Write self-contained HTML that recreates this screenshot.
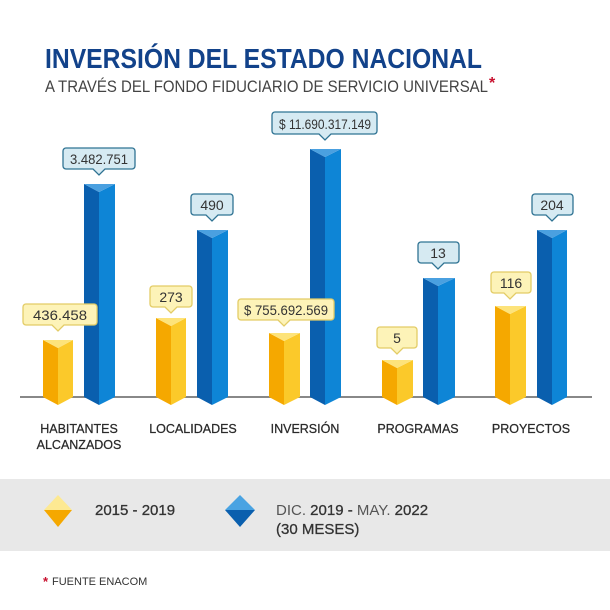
<!DOCTYPE html>
<html><head><meta charset="utf-8"><style>
html,body{margin:0;padding:0;background:#fff;}
svg{display:block;font-family:"Liberation Sans",sans-serif;}
</style></head><body>
<svg width="610" height="610" viewBox="0 0 610 610" xmlns="http://www.w3.org/2000/svg">
<rect width="610" height="610" fill="#fff"/>
<text x="45" y="68" font-size="28" font-weight="bold" fill="#12428a" textLength="437" lengthAdjust="spacingAndGlyphs">INVERSIÓN DEL ESTADO NACIONAL</text>
<text x="45" y="92" font-size="17" fill="#444" textLength="443" lengthAdjust="spacingAndGlyphs">A TRAVÉS DEL FONDO FIDUCIARIO DE SERVICIO UNIVERSAL</text>
<text x="489" y="88" font-size="16" fill="#c8102e" font-weight="bold">*</text>

<line x1="20" y1="397" x2="592" y2="397" stroke="#888" stroke-width="2"/>

<g>
<polygon points="43,340 58,348 58,405 43,397" fill="#f5a800"/><polygon points="58,348 73,340 73,397 58,405" fill="#fbc92a"/><polygon points="43,340 73,340 58,348" fill="#fde37a"/>
<polygon points="156,318 171,326 171,405 156,397" fill="#f5a800"/><polygon points="171,326 186,318 186,397 171,405" fill="#fbc92a"/><polygon points="156,318 186,318 171,326" fill="#fde37a"/>
<polygon points="269,333 284,341 284,405 269,397" fill="#f5a800"/><polygon points="284,341 300,333 300,397 284,405" fill="#fbc92a"/><polygon points="269,333 300,333 284,341" fill="#fde37a"/>
<polygon points="382,360 397,368 397,405 382,397" fill="#f5a800"/><polygon points="397,368 413,360 413,397 397,405" fill="#fbc92a"/><polygon points="382,360 413,360 397,368" fill="#fde37a"/>
<polygon points="495,306 510,314 510,405 495,397" fill="#f5a800"/><polygon points="510,314 526,306 526,397 510,405" fill="#fbc92a"/><polygon points="495,306 526,306 510,314" fill="#fde37a"/>
</g>
<g>
<polygon points="84,184 99,192 99,405 84,397" fill="#0a5fae"/><polygon points="99,192 115,184 115,397 99,405" fill="#0e85d6"/><polygon points="84,184 115,184 99,192" fill="#4aa0e0"/>
<polygon points="197,230 212,238 212,405 197,397" fill="#0a5fae"/><polygon points="212,238 228,230 228,397 212,405" fill="#0e85d6"/><polygon points="197,230 228,230 212,238" fill="#4aa0e0"/>
<polygon points="310,149 325,157 325,405 310,397" fill="#0a5fae"/><polygon points="325,157 341,149 341,397 325,405" fill="#0e85d6"/><polygon points="310,149 341,149 325,157" fill="#4aa0e0"/>
<polygon points="423,278 438,286 438,405 423,397" fill="#0a5fae"/><polygon points="438,286 455,278 455,397 438,405" fill="#0e85d6"/><polygon points="423,278 455,278 438,286" fill="#4aa0e0"/>
<polygon points="537,230 552,238 552,405 537,397" fill="#0a5fae"/><polygon points="552,238 567,230 567,397 552,405" fill="#0e85d6"/><polygon points="537,230 567,230 552,238" fill="#4aa0e0"/>
</g>

<g font-size="14" fill="#333" text-anchor="middle">
<g fill="#fdf3b8" stroke="#e3cc66" stroke-width="1.3">
<path d="M26,304 h68 a3,3 0 0 1 3,3 v15 a3,3 0 0 1 -3,3 h-30 l-6,6 l-6,-6 h-26 a3,3 0 0 1 -3,-3 v-15 a3,3 0 0 1 3,-3z"/>
<path d="M153,286 h36 a3,3 0 0 1 3,3 v15 a3,3 0 0 1 -3,3 h-12 l-6,6 l-6,-6 h-12 a3,3 0 0 1 -3,-3 v-15 a3,3 0 0 1 3,-3z"/>
<path d="M241,299 h90 a3,3 0 0 1 3,3 v15 a3,3 0 0 1 -3,3 h-41 l-6,6 l-6,-6 h-37 a3,3 0 0 1 -3,-3 v-15 a3,3 0 0 1 3,-3z"/>
<path d="M380,327 h34 a3,3 0 0 1 3,3 v15 a3,3 0 0 1 -3,3 h-11 l-6,6 l-6,-6 h-11 a3,3 0 0 1 -3,-3 v-15 a3,3 0 0 1 3,-3z"/>
<path d="M494,272 h34 a3,3 0 0 1 3,3 v15 a3,3 0 0 1 -3,3 h-12 l-6,6 l-6,-6 h-10 a3,3 0 0 1 -3,-3 v-15 a3,3 0 0 1 3,-3z"/>
</g>
<g fill="#d6eaf2" stroke="#2f7393" stroke-width="1.3">
<path d="M66,148 h66 a3,3 0 0 1 3,3 v15 a3,3 0 0 1 -3,3 h-27 l-6,6 l-6,-6 h-27 a3,3 0 0 1 -3,-3 v-15 a3,3 0 0 1 3,-3z"/>
<path d="M194,194 h36 a3,3 0 0 1 3,3 v15 a3,3 0 0 1 -3,3 h-12 l-6,6 l-6,-6 h-12 a3,3 0 0 1 -3,-3 v-15 a3,3 0 0 1 3,-3z"/>
<path d="M275,112 h99 a3,3 0 0 1 3,3 v16 a3,3 0 0 1 -3,3 h-43 l-6,6 l-6,-6 h-44 a3,3 0 0 1 -3,-3 v-16 a3,3 0 0 1 3,-3z"/>
<path d="M421,242 h35 a3,3 0 0 1 3,3 v15 a3,3 0 0 1 -3,3 h-12 l-6,6 l-6,-6 h-11 a3,3 0 0 1 -3,-3 v-15 a3,3 0 0 1 3,-3z"/>
<path d="M535,194 h35 a3,3 0 0 1 3,3 v15 a3,3 0 0 1 -3,3 h-12 l-6,6 l-6,-6 h-11 a3,3 0 0 1 -3,-3 v-15 a3,3 0 0 1 3,-3z"/>
</g>
<text x="60" y="320" textLength="54" lengthAdjust="spacingAndGlyphs">436.458</text>
<text x="171" y="302">273</text>
<text x="286" y="315" textLength="84" lengthAdjust="spacingAndGlyphs">$ 755.692.569</text>
<text x="397" y="343">5</text>
<text x="511" y="288">116</text>
<text x="99" y="164" textLength="58" lengthAdjust="spacingAndGlyphs">3.482.751</text>
<text x="212" y="210">490</text>
<text x="325" y="129" textLength="92" lengthAdjust="spacingAndGlyphs">$ 11.690.317.149</text>
<text x="438" y="258">13</text>
<text x="552" y="210">204</text>
</g>

<g font-size="12.5" fill="#2a2a2a" text-anchor="middle" stroke="#2a2a2a" stroke-width="0.25">
<text x="79" y="433">HABITANTES</text>
<text x="79" y="449">ALCANZADOS</text>
<text x="193" y="433">LOCALIDADES</text>
<text x="305" y="433">INVERSIÓN</text>
<text x="418" y="433">PROGRAMAS</text>
<text x="531" y="433">PROYECTOS</text>
</g>

<rect x="0" y="479" width="610" height="72" fill="#e8e8e8"/>
<polygon points="58,495 72,510 44,510" fill="#fde992"/>
<polygon points="44,510 72,510 58,527" fill="#f5a800"/>
<polygon points="240,495 255,510 225,510" fill="#4aa3e2"/>
<polygon points="225,510 255,510 240,527" fill="#0a5fae"/>
<text x="95" y="515" font-size="15" fill="#333" stroke="#333" stroke-width="0.3">2015 - 2019</text>
<text x="276" y="515" font-size="15" fill="#333"><tspan fill="#555">DIC. </tspan><tspan stroke="#333" stroke-width="0.3">2019 - </tspan><tspan fill="#555">MAY. </tspan><tspan stroke="#333" stroke-width="0.3">2022</tspan></text>
<text x="276" y="534" font-size="15" fill="#333" stroke="#333" stroke-width="0.3">(30 MESES)</text>

<text x="43" y="586" font-size="13" fill="#c8102e" font-weight="bold">*</text>
<text x="52" y="585" font-size="11" fill="#333">FUENTE ENACOM</text>
</svg>
</body></html>
